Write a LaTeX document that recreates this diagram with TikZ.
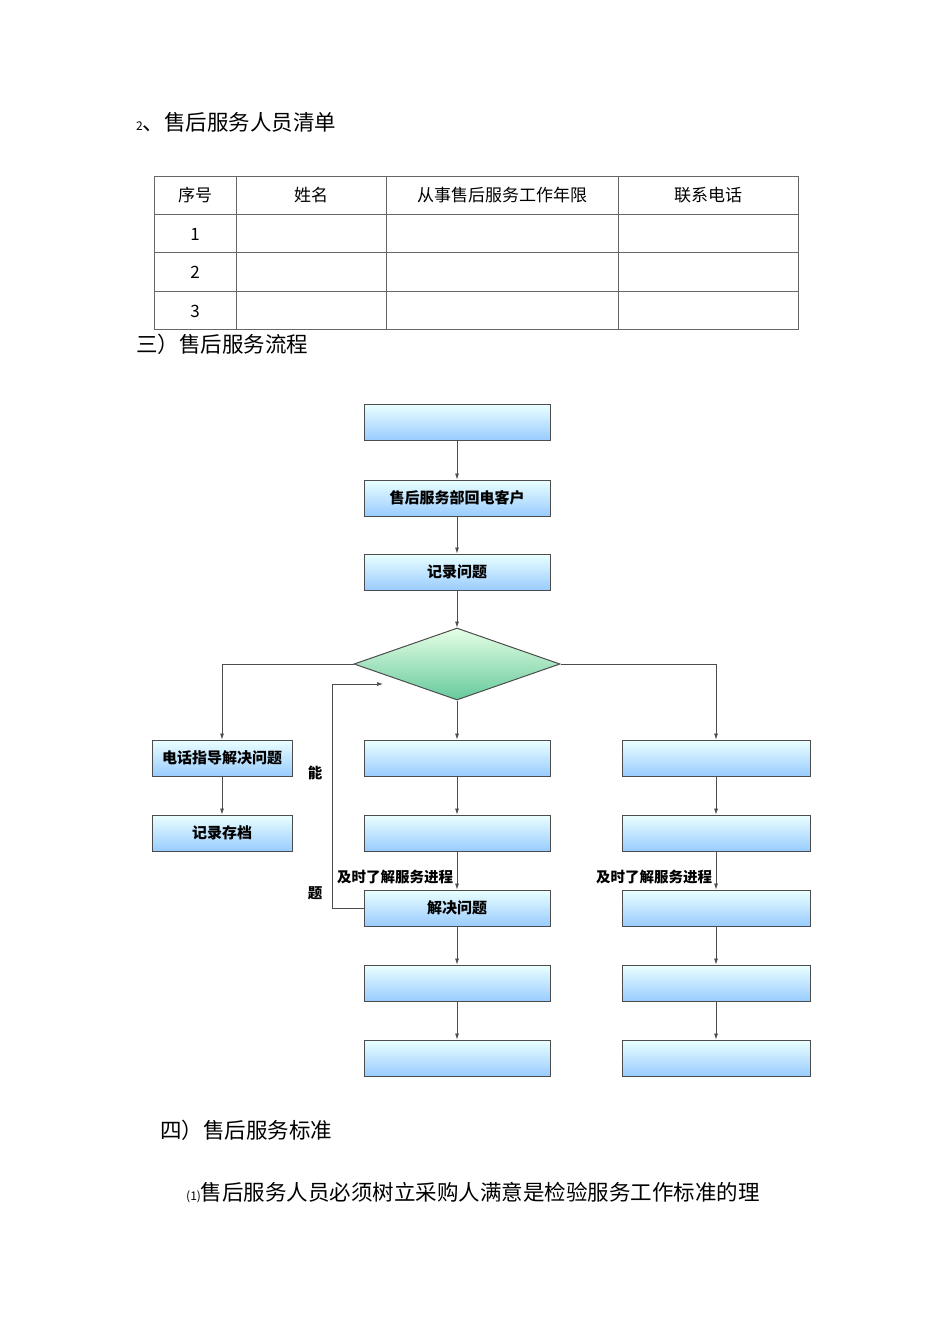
\documentclass[tikz,border=0pt]{standalone}
\usepackage{fontspec}
\setmainfont{Noto Sans CJK SC}
\usetikzlibrary{shapes.geometric,arrows.meta}
\begin{document}
\begin{tikzpicture}[x=1pt,y=-1pt,
 bx/.style={draw=black!70,line width=1pt,top color=cyan!8,bottom color=cyan!50!blue!40,minimum height=36pt,inner sep=0pt,font=\fontsize{15}{15}\selectfont\bfseries},
 cb/.style={bx,minimum width=186pt},
 sb/.style={bx,minimum width=140pt},
 ar/.style={-{Latex[length=6pt,width=4pt]},black!70,line width=0.7pt},
 tx/.style={anchor=west,inner sep=0pt,font=\fontsize{21.5}{21.5}\selectfont},
 tt/.style={font=\fontsize{17}{17}\selectfont},
 lb/.style={font=\fontsize{14.5}{14.5}\selectfont\bfseries}]
\useasboundingbox (0,0) rectangle (950,1344);
\node[tx] (h1) at (136,122) {{\fontsize{12}{12}\selectfont 2}、售后服务人员清单};
\draw[black!60,line width=0.6pt] (154,176) rectangle (798,329);
\foreach \y in {214,252,291} \draw[black!60,line width=0.6pt] (154,\y) -- (798,\y);
\foreach \x in {236,386,618} \draw[black!60,line width=0.6pt] (\x,176) -- (\x,329);
\node[tt] (c1) at (195,195) {序号};
\node[tt] (c2) at (311,195) {姓名};
\node[tt] (c3) at (502,195) {从事售后服务工作年限};
\node[tt] (c4) at (708,195) {联系电话};
\node[tt] (r1) at (195,234) {1};
\node[tt] (r2) at (195,272) {2};
\node[tt] (r3) at (195,311) {3};
\node[tx] (h2) at (136,344) {三）售后服务流程};
\node[cb] (a1) at (457,422) {};
\node[cb] (a2) at (457,498) {售后服务部回电客户};
\node[cb] (a3) at (457,572) {记录问题};
\node[diamond,aspect=2.9,draw=black!70,line width=1pt,top color=green!10,bottom color=teal!70!green!60,minimum width=206pt,minimum height=72pt,inner sep=0pt] (d) at (457,664) {};
\node[sb] (l1) at (222,758) {电话指导解决问题};
\node[sb] (l2) at (222,833) {记录存档};
\node[cb] (m1) at (457,758) {};
\node[cb] (m2) at (457,833) {};
\node[cb] (m3) at (457,908) {解决问题};
\node[cb] (m4) at (457,983) {};
\node[cb] (m5) at (457,1058) {};
\node[cb,minimum width=188pt] (n1) at (716,758) {};
\node[cb,minimum width=188pt] (n2) at (716,833) {};
\node[cb,minimum width=188pt] (n3) at (716,908) {};
\node[cb,minimum width=188pt] (n4) at (716,983) {};
\node[cb,minimum width=188pt] (n5) at (716,1058) {};
\draw[ar] (a1) -- (a2);
\draw[ar] (a2) -- (a3);
\draw[ar] (a3) -- (d);
\draw[ar] (d.west) -| (l1);
\draw[ar] (l1) -- (l2);
\draw[ar] (d.east) -| (n1);
\draw[ar] (d) -- (m1);
\foreach \p/\q in {m1/m2,m2/m3,m3/m4,m4/m5,n1/n2,n2/n3,n3/n4,n4/n5} \draw[ar] (\p) -- (\q);
\coordinate (fb) at (383,684);
\draw[ar] (m3.west) -- (332,908) -- (332,684) -- (fb);
\node[lb] (k1) at (315,773) {能};
\node[lb] (k2) at (315,893) {题};
\node[lb] (j1) at (395,877) {及时了解服务进程};
\node[lb] (j2) at (654,877) {及时了解服务进程};
\node[tx] (h3) at (160,1130) {四）售后服务标准};
\node[tx] (p1) at (186,1193) {{\fontsize{12}{12}\selectfont (1)}售后服务人员必须树立采购人满意是检验服务工作标准的理};
\end{tikzpicture}
\end{document}
